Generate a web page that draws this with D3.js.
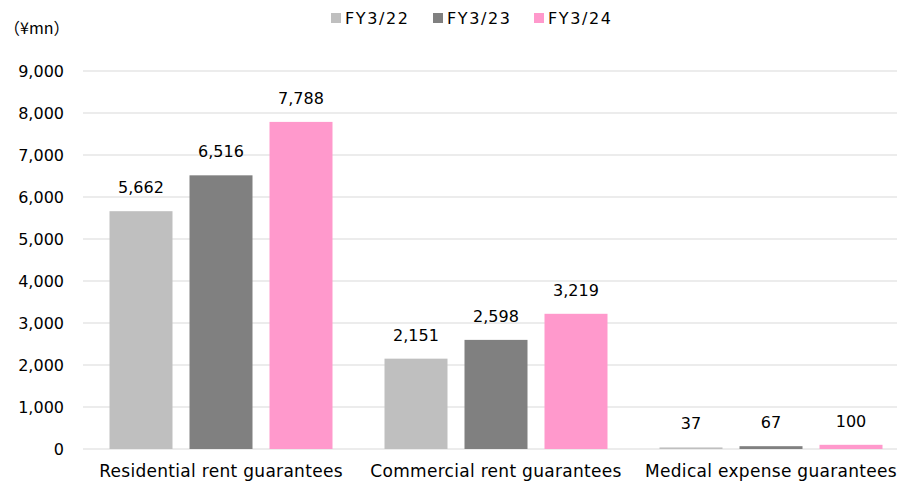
<!DOCTYPE html>
<html><head><meta charset="utf-8">
<script src="https://cdn.jsdelivr.net/npm/d3@7"></script>
<style>body{margin:0;background:#fff}svg{display:block}text{font-family:"DejaVu Sans",sans-serif;fill:#000}</style>
</head><body><svg id="c" width="897" height="484"></svg>
<script>
const categories = ["Residential rent guarantees","Commercial rent guarantees","Medical expense guarantees"];
const seriesNames = ["FY3/22","FY3/23","FY3/24"];
const fy22 = [5662, 2151, 37];
const fy23 = [6516, 2598, 67];
const fy24 = [7788, 3219, 100];
const yTicks = [0,1000,2000,3000,4000,5000,6000,7000,8000,9000];
const colors = ["#bfbfbf","#808080","#ff99cc"];
const seriesVals = [fy22, fy23, fy24];

const svg = d3.select("#c");
const x = d3.scaleBand().domain(categories).range([83.5, 908.5]);
const y = d3.scaleLinear().domain([0,9000]).range([449,71]);
const fmt = d3.format(",");
const FS = 16;

svg.append("g").selectAll("line").data(yTicks).join("line")
  .attr("x1",83).attr("x2",897).attr("y1",d=>y(d)).attr("y2",d=>y(d))
  .attr("stroke","#d9d9d9").attr("stroke-width",1);

svg.append("g").selectAll("text").data(yTicks).join("text")
  .attr("x",64).attr("y",d=>y(d)).attr("dy","0.35em").attr("text-anchor","end")
  .attr("font-size",FS).text(d=>fmt(d));

svg.append("text").attr("x",4).attr("y",34).attr("font-size",FS)
  .style("font-family",'"Noto Sans CJK JP",sans-serif').text("（¥mn）");

const bw = 63, gap = 17;
seriesVals.forEach((vals,si)=>{
  const off = (si-1)*(bw+gap) - bw/2;
  const g = svg.append("g");
  g.selectAll("rect").data(vals).join("rect")
    .attr("x",(d,i)=>x(categories[i])+x.bandwidth()/2+off)
    .attr("y",d=>y(d)).attr("width",bw).attr("height",d=>y(0)-y(d))
    .attr("fill",colors[si]);
  g.selectAll("text").data(vals).join("text")
    .attr("x",(d,i)=>x(categories[i])+x.bandwidth()/2+off+bw/2)
    .attr("y",d=>y(d)-18).attr("text-anchor","middle").attr("font-size",FS)
    .text(d=>fmt(d));
});

svg.append("g").selectAll("text").data(categories).join("text")
  .attr("x",d=>x(d)+x.bandwidth()/2).attr("y",477).attr("text-anchor","middle")
  .attr("font-size",17).attr("letter-spacing",0.3).text(d=>d);

const lx = [331, 433, 534];
const lg = svg.append("g");
seriesNames.forEach((n,i)=>{
  lg.append("rect").attr("x",lx[i]).attr("y",13).attr("width",10).attr("height",10).attr("fill",colors[i]);
  lg.append("text").attr("x",lx[i]+14).attr("y",24).attr("font-size",FS).attr("letter-spacing",1.6).text(n);
});
</script></body></html>
